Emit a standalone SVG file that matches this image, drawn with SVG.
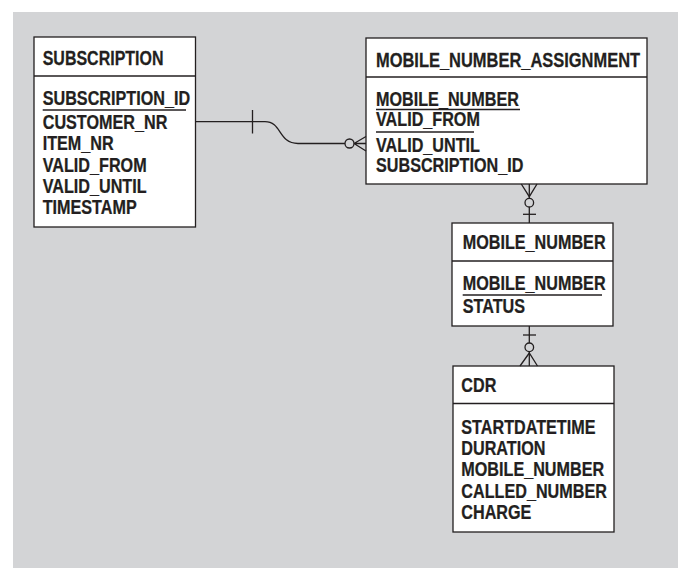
<svg xmlns="http://www.w3.org/2000/svg" width="678" height="568" viewBox="0 0 678 568">
<defs>
<style>
.bg{fill:#d3d4d6}
.box{fill:#ffffff;stroke:#231f20;stroke-width:1.3}
.ln{fill:none;stroke:#231f20;stroke-width:1.3}
.t{font-family:"Liberation Sans",Arial,sans-serif;font-size:19.5px;font-weight:bold;fill:#231f20;stroke:#231f20;stroke-width:0.25}
</style>
</defs>
<rect x="0" y="0" width="678" height="568" fill="#ffffff"/>
<rect class="bg" x="13" y="12" width="665" height="556"/>

<g id="SUBSCRIPTION">
<rect class="box" x="34" y="37" width="161.5" height="190"/>
<line class="ln" x1="34" y1="76" x2="195.5" y2="76"/>
<text class="t" transform="translate(42.7,64.5) scale(0.82,1)">SUBSCRIPTION</text>
<text class="t" transform="translate(42.7,104.5) scale(0.83,1)">SUBSCRIPTION_ID</text>
<line class="ln" x1="42.7" y1="110" x2="186" y2="110"/>
<text class="t" transform="translate(42.7,129) scale(0.83,1)">CUSTOMER_NR</text>
<text class="t" transform="translate(42.7,150) scale(0.83,1)">ITEM_NR</text>
<text class="t" transform="translate(42.7,171.5) scale(0.83,1)">VALID_FROM</text>
<text class="t" transform="translate(42.7,192.5) scale(0.83,1)">VALID_UNTIL</text>
<text class="t" transform="translate(42.7,214) scale(0.83,1)">TIMESTAMP</text>
</g>

<g id="MOBILE_NUMBER_ASSIGNMENT">
<rect class="box" x="366" y="38" width="281" height="146"/>
<line class="ln" x1="366" y1="77" x2="647" y2="77"/>
<text class="t" transform="translate(376,66.5) scale(0.844,1)">MOBILE_NUMBER_ASSIGNMENT</text>
<text class="t" transform="translate(376,106) scale(0.83,1)">MOBILE_NUMBER</text>
<line class="ln" x1="376" y1="109.5" x2="520" y2="109.5"/>
<text class="t" transform="translate(376,126) scale(0.83,1)">VALID_FROM</text>
<line class="ln" x1="376" y1="132" x2="474" y2="132"/>
<text class="t" transform="translate(376,151.5) scale(0.83,1)">VALID_UNTIL</text>
<text class="t" transform="translate(376,172) scale(0.83,1)">SUBSCRIPTION_ID</text>
</g>

<g id="MOBILE_NUMBER">
<rect class="box" x="452" y="223" width="161" height="103"/>
<line class="ln" x1="452" y1="261" x2="613" y2="261"/>
<text class="t" transform="translate(462.7,249) scale(0.83,1)">MOBILE_NUMBER</text>
<text class="t" transform="translate(462.7,290) scale(0.83,1)">MOBILE_NUMBER</text>
<line class="ln" x1="462.7" y1="295" x2="602" y2="295"/>
<text class="t" transform="translate(462.7,312.5) scale(0.83,1)">STATUS</text>
</g>

<g id="CDR">
<rect class="box" x="453" y="366" width="161" height="166"/>
<line class="ln" x1="453" y1="403.5" x2="614" y2="403.5"/>
<text class="t" transform="translate(461.3,391.5) scale(0.83,1)">CDR</text>
<text class="t" transform="translate(461.3,434) scale(0.83,1)">STARTDATETIME</text>
<text class="t" transform="translate(461.3,455) scale(0.83,1)">DURATION</text>
<text class="t" transform="translate(461.3,476) scale(0.83,1)">MOBILE_NUMBER</text>
<text class="t" transform="translate(461.3,498) scale(0.83,1)">CALLED_NUMBER</text>
<text class="t" transform="translate(461.3,519) scale(0.83,1)">CHARGE</text>
</g>

<g id="connectors">
<!-- SUBSCRIPTION to MOBILE_NUMBER_ASSIGNMENT -->
<path class="ln" d="M195.5,121.7 H265 C282,121.7 278,143.5 298,143.5 H345"/>
<line class="ln" x1="252.5" y1="110" x2="252.5" y2="133.5"/>
<circle class="ln" cx="349.5" cy="143.5" r="4.5"/>
<path class="ln" d="M354,143.5 L366,136.5 M354,143.5 H366 M354,143.5 L366,151"/>
<!-- MOBILE_NUMBER_ASSIGNMENT to MOBILE_NUMBER -->
<line class="ln" x1="529.3" y1="184" x2="529.3" y2="198.3"/>
<line class="ln" x1="529.3" y1="207" x2="529.3" y2="223"/>
<path class="ln" d="M521.3,184 L529.3,196.7 L537,184"/>
<circle class="ln" cx="529.3" cy="202.7" r="4.3"/>
<line class="ln" x1="523" y1="214.3" x2="536" y2="214.3"/>
<!-- MOBILE_NUMBER to CDR -->
<line class="ln" x1="529.3" y1="326" x2="529.3" y2="343"/>
<line class="ln" x1="529.3" y1="351.6" x2="529.3" y2="366"/>
<line class="ln" x1="523" y1="335" x2="536" y2="335"/>
<circle class="ln" cx="529.3" cy="347.3" r="4.3"/>
<path class="ln" d="M520,366 L529.3,353 L537.5,366"/>
</g>
</svg>
